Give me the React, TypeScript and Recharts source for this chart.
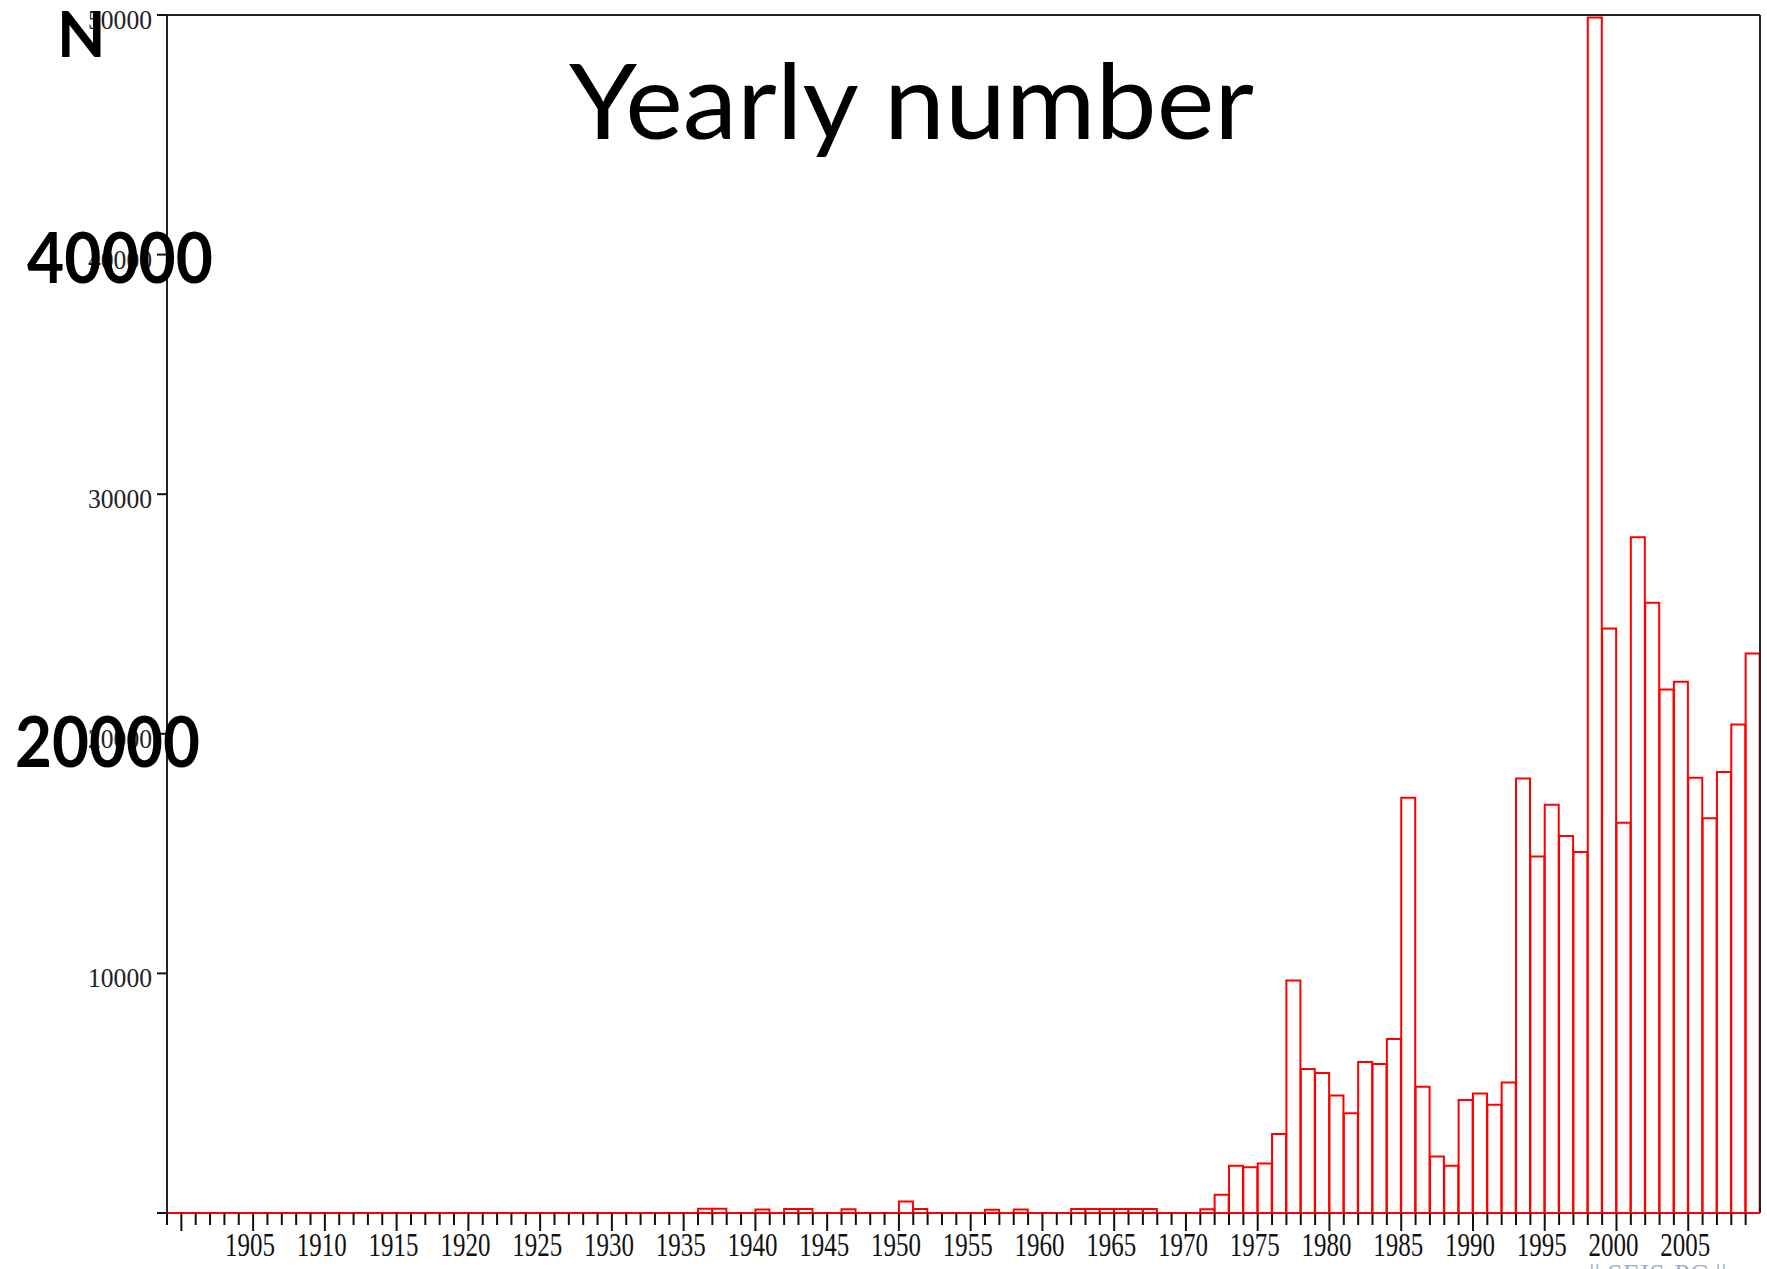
import React from 'react';
import { ComposedChart, Bar, XAxis, YAxis, ReferenceLine } from 'recharts';

// Yearly number of events, one value per year starting at 1899 (through 2009)
const START_YEAR = 1899;
const yearlyCounts: number[] = [
  0, 0, 0, 0, 0, 0, 0, 0, 0, 0, // 1899-1908
  0, 0, 0, 0, 0, 0, 0, 0, 0, 0, // 1909-1918
  0, 0, 0, 0, 0, 0, 0, 0, 0, 0, // 1919-1928
  0, 0, 0, 0, 0, 0, 0, 180, 180, 0, // 1929-1938
  0, 150, 0, 170, 170, 0, 0, 160, 0, 0, // 1939-1948
  0, 480, 170, 0, 0, 0, 0, 140, 0, 150, // 1949-1958
  0, 0, 0, 170, 170, 170, 170, 170, 170, 0, // 1959-1968
  0, 0, 160, 765, 1975, 1905, 2070, 3300, 9700, 6010, // 1969-1978
  5840, 4900, 4160, 6300, 6220, 7260, 17330, 5270, 2360, 1975, // 1979-1988
  4715, 4990, 4520, 5450, 18130, 14880, 17040, 15730, 15070, 49900, // 1989-1998
  24390, 16290, 28200, 25470, 21850, 22175, 18170, 16480, 18410, 20390, // 1999-2008
  23350, // 2009
];
const years: number[] = yearlyCounts.map((_, i) => START_YEAR + i);
const LAST_YEAR = years[years.length - 1];
const labelYears: number[] = [1905, 1910, 1915, 1920, 1925, 1930, 1935, 1940, 1945, 1950, 1955, 1960, 1965, 1970, 1975, 1980, 1985, 1990, 1995, 2000, 2005];
const yTicks: number[] = [0, 10000, 20000, 30000, 40000, 50000];
const bigYLabels: string[] = ['40000', '20000'];
const title = 'Yearly number';
const yTitle = 'N';
const watermark = '|| SEIS-PC ||';

const data = years.map((y, i) => ({ year: y, count: yearlyCounts[i] }));

// Tick marks sit at the left edge of each yearly bin (bin start = year)
const XTick = (props: any) => {
  const { x, y, payload } = props;
  const v = Number(payload.value);
  const off = typeof payload.offset === 'number' ? payload.offset : 0;
  const edge = x - off;
  const long = v % 5 === 0;
  const showLabel = labelYears.includes(v);
  return (
    <g>
      <line x1={edge} x2={edge} y1={y} y2={y + (long ? 18 : 12)} stroke="#111" strokeWidth={2} />
      {showLabel && (
        <text
          x={edge - 3}
          y={y + 43}
          textAnchor="middle"
          fontFamily="'Liberation Serif', 'Times New Roman', serif"
          fontSize={34}
          textLength={50}
          lengthAdjust="spacingAndGlyphs"
          fill="#111"
        >
          {v}
        </text>
      )}
    </g>
  );
};

const YTick = (props: any) => {
  const { x, y, payload } = props;
  const v = payload.value as number;
  return (
    <g>
      <line x1={x - 10} x2={x} y1={y} y2={y} stroke="#111" strokeWidth={2} />
      {v !== 0 && (
        <text
          x={x - 15}
          y={y + 14}
          textAnchor="end"
          fontFamily="'Liberation Serif', 'Times New Roman', serif"
          fontSize={28}
          textLength={64}
          lengthAdjust="spacingAndGlyphs"
          fill="#222"
        >
          {v}
        </text>
      )}
    </g>
  );
};

export default function App() {
  return (
    <div
      style={{
        position: 'absolute',
        left: 0,
        top: 0,
        width: 1767,
        height: 1269,
        overflow: 'hidden',
        background: '#fff',
      }}
    >
      <ComposedChart
        width={1767}
        height={1269}
        data={data}
        margin={{ top: 15, right: 7, bottom: 0, left: 0 }}
        barCategoryGap={0}
        barGap={0}
      >
        <XAxis
          dataKey="year"
          type="category"
          interval={0}
          height={56}
          tickLine={false}
          tickSize={0}
          tickMargin={0}
          axisLine={{ stroke: '#ff0000', strokeWidth: 2 }}
          tick={(p: any) => <XTick {...p} />}
        />
        <YAxis
          type="number"
          domain={[0, 50000]}
          ticks={yTicks}
          interval={0}
          allowDataOverflow
          width={167}
          tickLine={false}
          tickSize={0}
          tickMargin={0}
          axisLine={{ stroke: '#222', strokeWidth: 2 }}
          tick={(p: any) => <YTick {...p} />}
        />
        <Bar
          dataKey="count"
          fill="none"
          stroke="#ff0000"
          strokeWidth={2}
          isAnimationActive={false}
        />
        <ReferenceLine y={50000} stroke="#222" strokeWidth={2} ifOverflow="visible" />
        <ReferenceLine x={LAST_YEAR} position="end" stroke="#222" strokeWidth={2} ifOverflow="visible" />
      </ComposedChart>
      <svg
        width={1767}
        height={1269}
        style={{ position: 'absolute', left: 0, top: 0, pointerEvents: 'none' }}
      >
        <text x={57} y={57} fontFamily="Lato, 'Open Sans', sans-serif" fontWeight={700} fontSize={63} fill="#000">
          {yTitle}
        </text>
        <text
          x={27}
          y={283}
          fontFamily="Lato, 'Open Sans', sans-serif"
          fontWeight={700}
          fontSize={70}
          textLength={186}
          lengthAdjust="spacingAndGlyphs"
          fill="#000"
        >
          {bigYLabels[0]}
        </text>
        <text
          x={15}
          y={767}
          fontFamily="Lato, 'Open Sans', sans-serif"
          fontWeight={700}
          fontSize={70}
          textLength={185}
          lengthAdjust="spacingAndGlyphs"
          fill="#000"
        >
          {bigYLabels[1]}
        </text>
        <text
          x={569}
          y={139}
          fontFamily="Lato, 'Open Sans', sans-serif"
          fontWeight={400}
          fontSize={105}
          textLength={685}
          lengthAdjust="spacingAndGlyphs"
          fill="#000"
        >
          {title}
        </text>
        <text
          x={1589}
          y={1283}
          fontFamily="'Liberation Serif', serif"
          fontSize={28}
          fill="#9fb0c8"
        >
          {watermark}
        </text>
      </svg>
    </div>
  );
}
